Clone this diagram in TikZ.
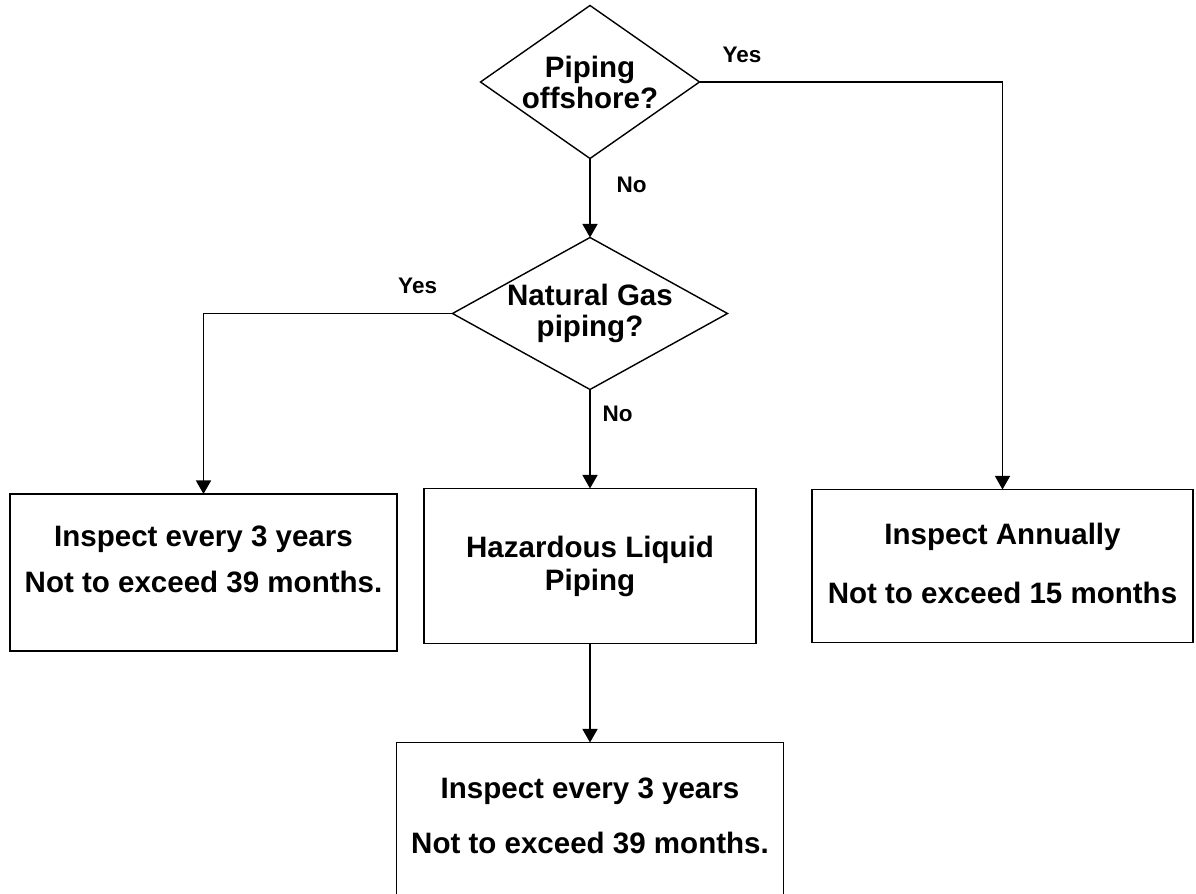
\documentclass[tikz,border=0pt]{standalone}
\usepackage{fontspec}
\setmainfont{Liberation Sans}
\usepackage{tikz}
\usetikzlibrary{arrows.meta,positioning,shapes.geometric}

\begin{document}
\begin{tikzpicture}[
  dec/.style={diamond,draw,line width=0.8pt,inner sep=0pt,outer sep=0pt,align=center,
    font=\fontsize{16.8}{17.6}\selectfont\bfseries},
  box/.style={draw,rectangle,line width=0.8pt,inner sep=0pt,outer sep=0pt,align=center,
    font=\fontsize{16.8}{18.8}\selectfont\bfseries},
  lbl/.style={inner sep=0pt,font=\fontsize{12.8}{14}\selectfont\bfseries},
  arr/.style={-{Triangle[length=0.27cm,width=0.3cm]},line width=0.8pt}
]
  \useasboundingbox (0,0) rectangle (23.92,-17.88);

  \node[dec,aspect=1.43,minimum width=4.38cm,minimum height=3.06cm] (offshore) at (11.8,-1.64) {Piping\\offshore?};
  \node[dec,aspect=1.81,minimum width=5.5cm,minimum height=3.04cm,below=1.58cm of offshore] (gas) {Natural Gas\\piping?};

  \node[box,minimum width=6.64cm,minimum height=3.1cm,below=1.98cm of gas] (hazard) {Hazardous Liquid\\Piping};
  \node[box,minimum width=7.74cm,minimum height=3.14cm,text depth=0.54cm,left=0.54cm of hazard,yshift=-0.13cm] (gasinsp) {Inspect every 3 years\\[7.4pt]Not to exceed 39 months.};
  \node[box,minimum width=7.62cm,minimum height=3.06cm,text depth=0.12cm,right=1.12cm of hazard] (annual) {Inspect Annually\\[14.7pt]Not to exceed 15 months};
  \node[box,minimum width=7.74cm,minimum height=3.1cm,text depth=0.16cm,below=1.98cm of hazard] (liqinsp) {Inspect every 3 years\\[12.4pt]Not to exceed 39 months.};

  \draw[arr] (offshore) -- node[lbl,right=0.52cm,pos=0.33]{No} (gas);
  \draw[arr] (gas) -- node[lbl,right=0.24cm,pos=0.25]{No} (hazard);
  \draw[arr] (hazard) -- (liqinsp);
  \draw[arr] (offshore.east) -| node[lbl,above=0.38cm,pos=0.07]{Yes} (annual.north);
  \draw[arr] (gas.west) -| node[lbl,above=0.38cm,pos=0.07]{Yes} (gasinsp.north);
\end{tikzpicture}
\end{document}
